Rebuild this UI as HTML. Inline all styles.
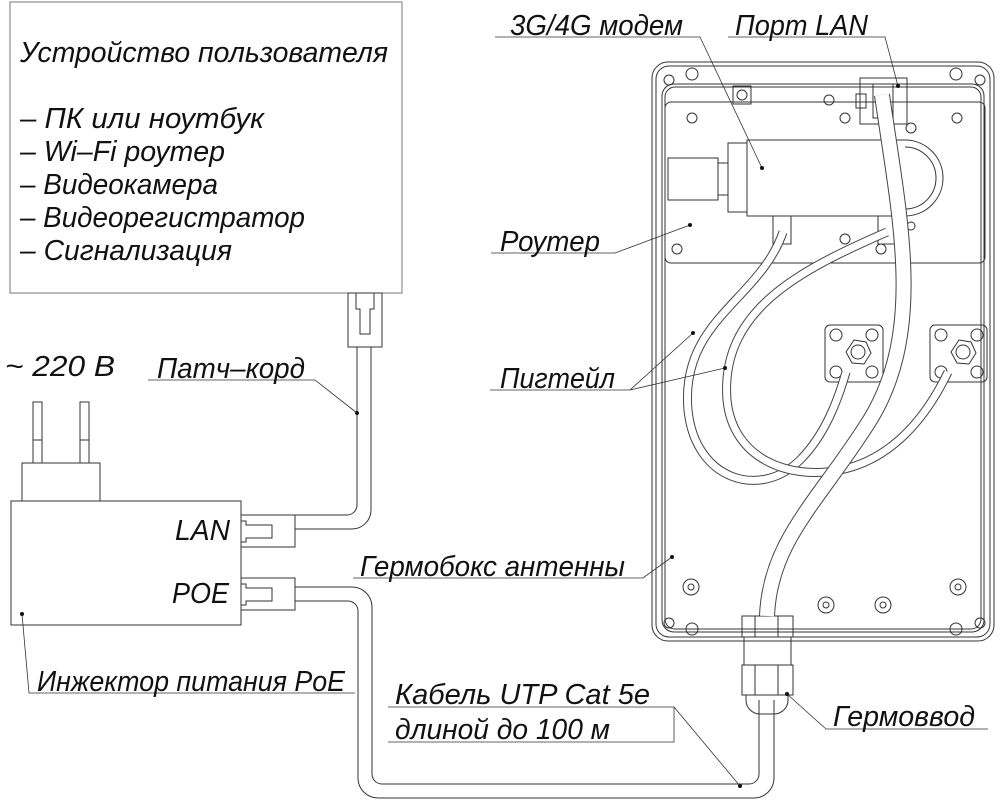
<!DOCTYPE html>
<html><head><meta charset="utf-8"><style>
html,body{margin:0;padding:0;background:#fff}
svg{display:block}
text{font-family:"Liberation Sans","DejaVu Sans",sans-serif;font-style:italic;fill:#111}
</style></head><body>
<svg width="1000" height="801" viewBox="0 0 1000 801" xmlns="http://www.w3.org/2000/svg">
<g fill="none" stroke="#333" stroke-width="1">
<!-- user device -->
<rect x="10" y="2" width="392" height="291" stroke="#777"/>
<rect x="348" y="293" width="34" height="54"/>
<path d="M356 293 v16 h4 v25 h10 v-25 h4 v-16"/>
<!-- patch cord -->
<path d="M357 347 V505 a10 10 0 0 1 -10 10 H295"/>
<path d="M371 347 V510 a19 19 0 0 1 -19 19 H295"/>
<!-- injector -->
<rect x="11" y="501" width="230" height="124"/>
<rect x="22" y="463" width="78" height="38"/>
<rect x="33" y="402" width="9" height="61"/><line x1="33" y1="440" x2="42" y2="440"/>
<rect x="80" y="402" width="9" height="61"/><line x1="80" y1="440" x2="89" y2="440"/>
<rect x="241" y="515" width="54" height="32"/>
<path d="M241 521 h5 v4 h26 v13 h-26 v4 h-5"/>
<rect x="241" y="578" width="54" height="32"/>
<path d="M241 584 h5 v4 h26 v13 h-26 v4 h-5"/>
<!-- UTP cable -->
<path d="M295 587 H352 a20 20 0 0 1 20 20 V774 a10 10 0 0 0 10 10 H749 a10 10 0 0 0 10 -10 V700"/>
<path d="M295 601 H348 a10 10 0 0 1 10 10 V778 a20 20 0 0 0 20 20 H754 a20 20 0 0 0 20 -20 V700"/>
<!-- enclosure -->
<rect x="652" y="62" width="342" height="579" rx="16"/>
<rect x="656" y="66" width="334" height="571" rx="13"/>
<rect x="662" y="84" width="322" height="548" rx="12"/>
<rect x="665" y="87" width="316" height="542" rx="10"/>
<circle cx="669" cy="80" r="5"/><circle cx="692" cy="74" r="6"/>
<circle cx="980" cy="80" r="5"/><circle cx="956" cy="74" r="6"/>
<circle cx="669" cy="623" r="5"/><circle cx="692" cy="629" r="6"/>
<circle cx="980" cy="623" r="5"/><circle cx="956" cy="629" r="6"/>
<circle cx="691" cy="587" r="8"/><circle cx="691" cy="587" r="3"/>
<circle cx="958" cy="587" r="8"/><circle cx="958" cy="587" r="3"/>
<circle cx="826" cy="605" r="8"/><circle cx="826" cy="605" r="3"/>
<circle cx="883" cy="605" r="8"/><circle cx="883" cy="605" r="3"/>
<!-- router plate -->
<rect x="665" y="102" width="320" height="161" rx="6"/>
<circle cx="692" cy="118" r="5"/><circle cx="829" cy="100" r="5"/><circle cx="957" cy="118" r="5"/>
<circle cx="845" cy="118" r="5"/><circle cx="911" cy="128" r="5"/>
<circle cx="677" cy="249" r="5"/><circle cx="845" cy="239" r="5"/><circle cx="881" cy="249" r="5"/><circle cx="911" cy="226" r="4"/>
<rect x="733" y="86" width="18" height="18"/><circle cx="742" cy="95" r="5"/>
<!-- port LAN -->
<rect x="860" y="78" width="47" height="46"/>
<rect x="873" y="84" width="20" height="34"/>
<rect x="856" y="94" width="10" height="14"/>
<!-- modem -->
<rect x="668" y="158" width="50" height="42"/>
<rect x="718" y="163" width="10" height="32"/>
<rect x="728" y="143" width="19" height="69"/>
<path d="M747 140 H905 a38 38 0 0 1 0 76 H747 Z"/>
<path d="M905 147 a31 31 0 0 1 0 62"/>
<rect x="773" y="216" width="18" height="28"/><rect x="878" y="216" width="18" height="28"/>
<!-- antenna connectors -->
<rect x="825" y="325" width="58" height="57" rx="5"/>
<rect x="930" y="325" width="57" height="57" rx="5"/>
<g>
<circle cx="836" cy="335" r="6"/><circle cx="872" cy="335" r="6"/><circle cx="836" cy="372" r="6"/><circle cx="872" cy="372" r="6"/>
<circle cx="941" cy="335" r="6"/><circle cx="977" cy="335" r="6"/><circle cx="941" cy="372" r="6"/><circle cx="977" cy="372" r="6"/>
<polygon points="854,340 866,342 871,353 864,364 852,363 846,352"/>
<polygon points="959,340 971,342 976,353 969,364 957,363 951,352"/>
<circle cx="858" cy="352" r="7"/><circle cx="963" cy="352" r="7"/>
</g>
<!-- gland -->
<rect x="742" y="616" width="51" height="21"/>
<rect x="744" y="637" width="47" height="28"/>
<rect x="742" y="665" width="51" height="30"/>
<path d="M746 695 v5 a14 14 0 0 0 14 14 h14 a14 14 0 0 0 14 -14 v-5"/>
<line x1="755" y1="616" x2="755" y2="637"/><line x1="778" y1="616" x2="778" y2="637"/>
<line x1="755" y1="665" x2="755" y2="695"/><line x1="778" y1="665" x2="778" y2="695"/>
</g>
<!-- cables (double-line via stroke) -->
<g fill="none" stroke-linecap="butt">
<path d="M783 232 C760 300,680 320,688 410 C695 480,760 500,800 460 C825 435,838 400,846 372" stroke="#444" stroke-width="9"/>
<path d="M783 232 C760 300,680 320,688 410 C695 480,760 500,800 460 C825 435,838 400,846 372" stroke="#fff" stroke-width="7"/>
<path d="M887 232 C800 270,720 310,727 400 C733 460,790 480,840 470 C890 460,925 420,948 372" stroke="#444" stroke-width="9"/>
<path d="M887 232 C800 270,720 310,727 400 C733 460,790 480,840 470 C890 460,925 420,948 372" stroke="#fff" stroke-width="7"/>
<path d="M882 95 C900 220,925 330,870 420 C820 500,770 540,767 616" stroke="#444" stroke-width="16"/>
<path d="M882 95 C900 220,925 330,870 420 C820 500,770 540,767 616" stroke="#fff" stroke-width="14"/>
</g>
<!-- leaders -->
<g fill="none" stroke="#333" stroke-width="0.8">
<path d="M495 37 H700 L762 168"/>
<path d="M728 37 H885 L898 86"/>
<path d="M491 253 H615 L690 225"/>
<path d="M490 390 H630 L693 333 M630 390 L725 368"/>
<path d="M353 578 H643 L672 557"/>
<path d="M148 380 H315 L357 413"/>
<path d="M22 614 L29 693 H355"/>
<path d="M388 707 H674 V742 H388 M674 707 L740 786"/>
<path d="M988 729 H826 L787 694"/>
</g>
<g fill="#111">
<circle cx="762" cy="168" r="2"/><circle cx="898" cy="86" r="2"/><circle cx="690" cy="225" r="2"/>
<circle cx="693" cy="333" r="2"/><circle cx="725" cy="368" r="2"/><circle cx="672" cy="557" r="2"/>
<circle cx="357" cy="413" r="2"/><circle cx="22" cy="614" r="2"/><circle cx="740" cy="786" r="2"/><circle cx="787" cy="694" r="2"/>
</g>
<!-- texts -->
<g font-size="29">
<text x="20" y="62" textLength="368" lengthAdjust="spacingAndGlyphs">Устройство пользователя</text>
<text x="20" y="128" textLength="244" lengthAdjust="spacingAndGlyphs">– ПК или ноутбук</text>
<text x="20" y="161" textLength="205" lengthAdjust="spacingAndGlyphs">– Wi–Fi роутер</text>
<text x="20" y="194" textLength="198" lengthAdjust="spacingAndGlyphs">– Видеокамера</text>
<text x="20" y="227" textLength="285" lengthAdjust="spacingAndGlyphs">– Видеорегистратор</text>
<text x="20" y="260" textLength="212" lengthAdjust="spacingAndGlyphs">– Сигнализация</text>
<text x="510" y="35" textLength="173" lengthAdjust="spacingAndGlyphs">3G/4G модем</text>
<text x="735" y="35" textLength="133" lengthAdjust="spacingAndGlyphs">Порт LAN</text>
<text x="500" y="251" textLength="100" lengthAdjust="spacingAndGlyphs">Роутер</text>
<text x="500" y="388" textLength="115" lengthAdjust="spacingAndGlyphs">Пигтейл</text>
<text x="360" y="576" textLength="265" lengthAdjust="spacingAndGlyphs">Гермобокс антенны</text>
<text x="157" y="378" textLength="148" lengthAdjust="spacingAndGlyphs">Патч–корд</text>
<text x="5" y="376" textLength="110" lengthAdjust="spacingAndGlyphs">~ 220 В</text>
<text x="175" y="540" textLength="55" lengthAdjust="spacingAndGlyphs">LAN</text>
<text x="172" y="603" textLength="57" lengthAdjust="spacingAndGlyphs">POE</text>
<text x="37" y="691" textLength="308" lengthAdjust="spacingAndGlyphs">Инжектор питания PoE</text>
<text x="395" y="704" textLength="255" lengthAdjust="spacingAndGlyphs">Кабель UTP Cat 5e</text>
<text x="395" y="739" textLength="215" lengthAdjust="spacingAndGlyphs">длиной до 100 м</text>
<text x="833" y="726" textLength="142" lengthAdjust="spacingAndGlyphs">Гермоввод</text>
</g>
</svg>
</body></html>
